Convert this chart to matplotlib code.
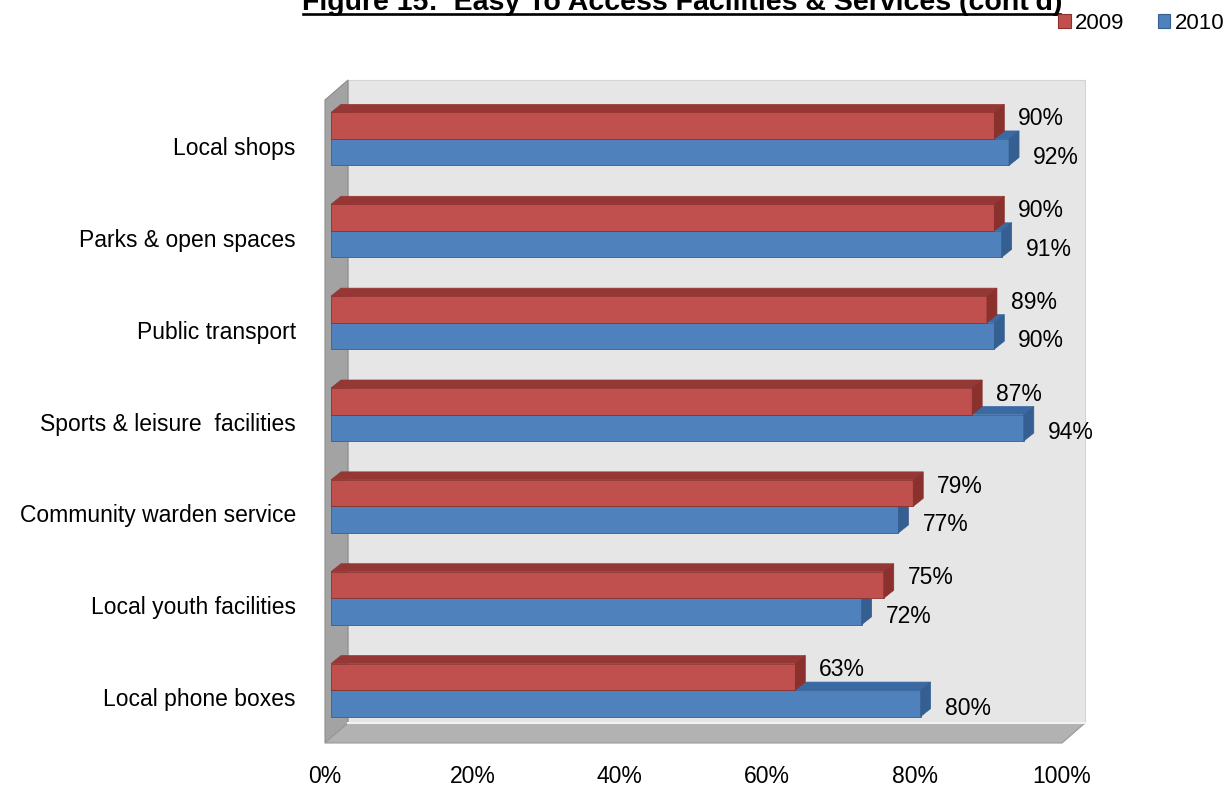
import numpy as np
import matplotlib.pyplot as plt
from matplotlib.patches import Polygon, Patch
from matplotlib.lines import Line2D

# data
categories = ['Local shops', 'Parks & open spaces', 'Public transport',
              'Sports & leisure  facilities', 'Community warden service',
              'Local youth facilities', 'Local phone boxes']
vals_2009 = [90, 90, 89, 87, 79, 75, 63]
vals_2010 = [92, 91, 90, 94, 77, 72, 80]
years = ['2009', '2010']
xticks = [0, 20, 40, 60, 80, 100]
title = "Figure 15:  Easy To Access Facilities & Services (cont'd)"

plt.rcParams['font.family'] = ['Liberation Sans', 'DejaVu Sans']

W, H = 1227, 787
fig = plt.figure(figsize=(W / 100, H / 100), dpi=100)

# front plane of the 3d box (pixels): x 325..1062, y 100..743
ax = fig.add_axes([325 / W, 1 - 743 / H, 737 / W, 643 / H])
n = len(categories)
ax.set_xlim(0, 100)
ax.set_ylim(-0.5, n - 0.5)

# pixel sizes in data units
px = 100 / 737
py = n / 643

wall_dx, wall_dy = 23 * px, 20 * py
bar_dx0, bar_dy0 = 6 * px, 7 * py
bar_dx, bar_dy = 10 * px, 8 * py
h = 26.5 * py

ybot, ytop = -0.5, n - 0.5

# walls
back = Polygon([(wall_dx, ybot + wall_dy), (100 + wall_dx, ybot + wall_dy),
                (100 + wall_dx, ytop + wall_dy), (wall_dx, ytop + wall_dy)],
               closed=True, fc='#e6e6e6', ec='#d4d4d4', lw=0.8, zorder=0, clip_on=False)
left = Polygon([(0, ybot), (0, ytop), (wall_dx, ytop + wall_dy), (wall_dx, ybot + wall_dy)],
               closed=True, fc='#a3a3a3', ec='#8c8c8c', lw=0.8, zorder=0.5, clip_on=False)
floor = Polygon([(0, ybot), (100, ybot), (100 + wall_dx, ybot + wall_dy), (wall_dx, ybot + wall_dy)],
                closed=True, fc='#b2b2b2', ec='#999999', lw=0.8, zorder=0.6, clip_on=False)
for p in (back, left, floor):
    ax.add_patch(p)
ax.plot([wall_dx, 100 + wall_dx], [ybot + wall_dy, ybot + wall_dy], color='#f2f2f2',
        lw=1.5, zorder=0.7, clip_on=False)

colors = {'2009': ('#c0504d', '#953735', '#8a312e'),
          '2010': ('#4f81bd', '#3a6aa3', '#365f91')}

ypos = np.arange(n)[::-1]


def draw_bars(vals, y0s, cols, z):
    front, top, side = cols
    ax.barh(y0s + h / 2, vals, height=h, left=bar_dx0, color=front,
            edgecolor=side, linewidth=0.6, zorder=z, clip_on=False)
    for v, y0 in zip(vals, y0s):
        x1 = bar_dx0 + v
        y1 = y0 + h
        ax.add_patch(Polygon([(bar_dx0, y1), (x1, y1), (x1 + bar_dx, y1 + bar_dy),
                              (bar_dx0 + bar_dx, y1 + bar_dy)], closed=True,
                             fc=top, ec=top, lw=0.5, zorder=z, clip_on=False))
        ax.add_patch(Polygon([(x1, y0), (x1, y1), (x1 + bar_dx, y1 + bar_dy),
                              (x1 + bar_dx, y0 + bar_dy)], closed=True,
                             fc=side, ec=side, lw=0.5, zorder=z, clip_on=False))


blue_y0 = ypos + bar_dy0 - h
red_y0 = ypos + bar_dy0
draw_bars(vals_2010, blue_y0, colors['2010'], 2)
draw_bars(vals_2009, red_y0, colors['2009'], 3)

# value labels
for v, y0 in zip(vals_2009, red_y0):
    ax.text(bar_dx0 + v + 24 * px, y0 + h / 2 + 7 * py, f'{v}%', ha='left', va='center',
            fontsize=16.5, zorder=5)
for v, y0 in zip(vals_2010, blue_y0):
    ax.text(bar_dx0 + v + 24 * px, y0 + h / 2 - 5 * py, f'{v}%', ha='left', va='center',
            fontsize=16.5, zorder=5)

ax.set_yticks(ypos, categories)
ax.set_xticks(xticks, [f'{t}%' for t in xticks])
ax.tick_params(axis='y', length=0, pad=21, labelsize=16.5)
ax.tick_params(axis='x', length=0, pad=16, labelsize=16.5)
for s in ax.spines.values():
    s.set_visible(False)
ax.patch.set_visible(False)

# title, cut off at the top edge as in the source
fig.text(682 / W, 1 - 9.5 / H, title, ha='center', va='baseline', fontsize=20.5,
         fontweight='bold')
fig.add_artist(Line2D([303 / W, 1060 / W], [1 - 14 / H, 1 - 14 / H], color='black',
                      lw=1.9, transform=fig.transFigure))

handles = [Patch(fc=colors[y][0], ec=colors[y][2], lw=0.8) for y in years]
fig.legend(handles, years, loc='upper right', bbox_to_anchor=(1224 / W, 1 - 13 / H),
           ncol=2, frameon=False, fontsize=16, handlelength=0.55, handleheight=0.55,
           handletextpad=0.2, columnspacing=1.5, borderaxespad=0, borderpad=0)

fig.savefig('out.png', dpi=100)
